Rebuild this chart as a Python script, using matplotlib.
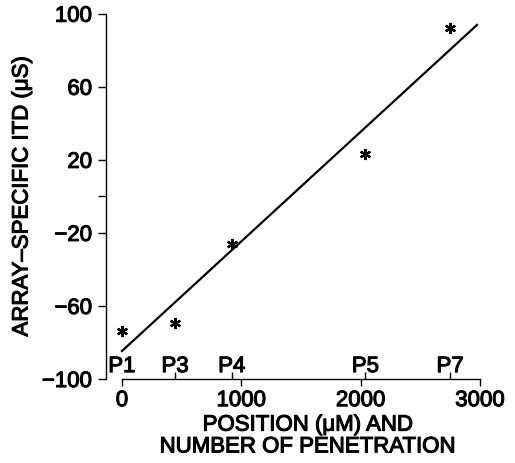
import numpy as np
import matplotlib
matplotlib.use('Agg')
import matplotlib.pyplot as plt
import matplotlib.patheffects as pe

# penetration labels and their positions along the array (um)
penetrations = ['P1', 'P3', 'P4', 'P5', 'P7']
position = [0, 445, 920, 2040, 2750]
itd = [-73.5, -69.5, -26, 23, 92]   # array-specific ITD (us)

plt.rcParams['font.family'] = ['Liberation Sans', 'DejaVu Sans']
plt.rcParams['font.size'] = 16
heavy = [pe.withStroke(linewidth=0.8, foreground='black')]

fig = plt.figure(figsize=(5.15, 4.63), dpi=100)
ax = fig.add_axes([0.2058, 0.1814, 0.7262, 0.789])

# data points
ax.plot(position, itd, linestyle='none', marker=(6, 2, 0), markersize=8,
        markeredgewidth=1.6, color='black')

# linear regression line
slope, intercept = np.polyfit(position, itd, 1)
xfit = np.array([0, 2975])
ax.plot(xfit, slope * xfit + intercept, color='black', linewidth=1.6)

ax.set_xlim(-134, 3000)
ax.set_ylim(-100, 100)

for s in ['top', 'right']:
    ax.spines[s].set_visible(False)
ax.spines['bottom'].set_bounds(0, 3000)
ax.spines['left'].set_linewidth(1.0)
ax.spines['bottom'].set_linewidth(1.0)

ax.set_yticks([-100, -60, -20, 20, 60, 100])
ax.set_yticks([0], minor=True)
ax.set_xticks([0, 1000, 2000, 3000])
ax.set_xticks(position, minor=True)
ax.tick_params(axis='y', which='both', direction='out', length=6, width=1, pad=4)
ax.tick_params(axis='x', which='major', direction='out', length=5, width=1, pad=3)
ax.tick_params(axis='x', which='minor', direction='in', length=5, width=1)
for lab in ax.get_xticklabels() + ax.get_yticklabels():
    lab.set_path_effects(heavy)

# penetration labels above the axis
for name, x in zip(penetrations, position):
    ax.annotate(name, xy=(x, -100), xytext=(0, 5), textcoords='offset points',
                ha='center', va='baseline', path_effects=heavy)

fig.text(308 / 515, 1 - 436 / 463, 'POSITION (\u03bcM) AND\nNUMBER OF PENETRATION',
         ha='center', va='center', linespacing=1.05, path_effects=heavy)
fig.text(22 / 515, 1 - 196 / 463, 'ARRAY\u2013SPECIFIC ITD (\u03bcS)',
         ha='center', va='center', rotation=90, path_effects=heavy)

fig.savefig('out.png', dpi=100)
